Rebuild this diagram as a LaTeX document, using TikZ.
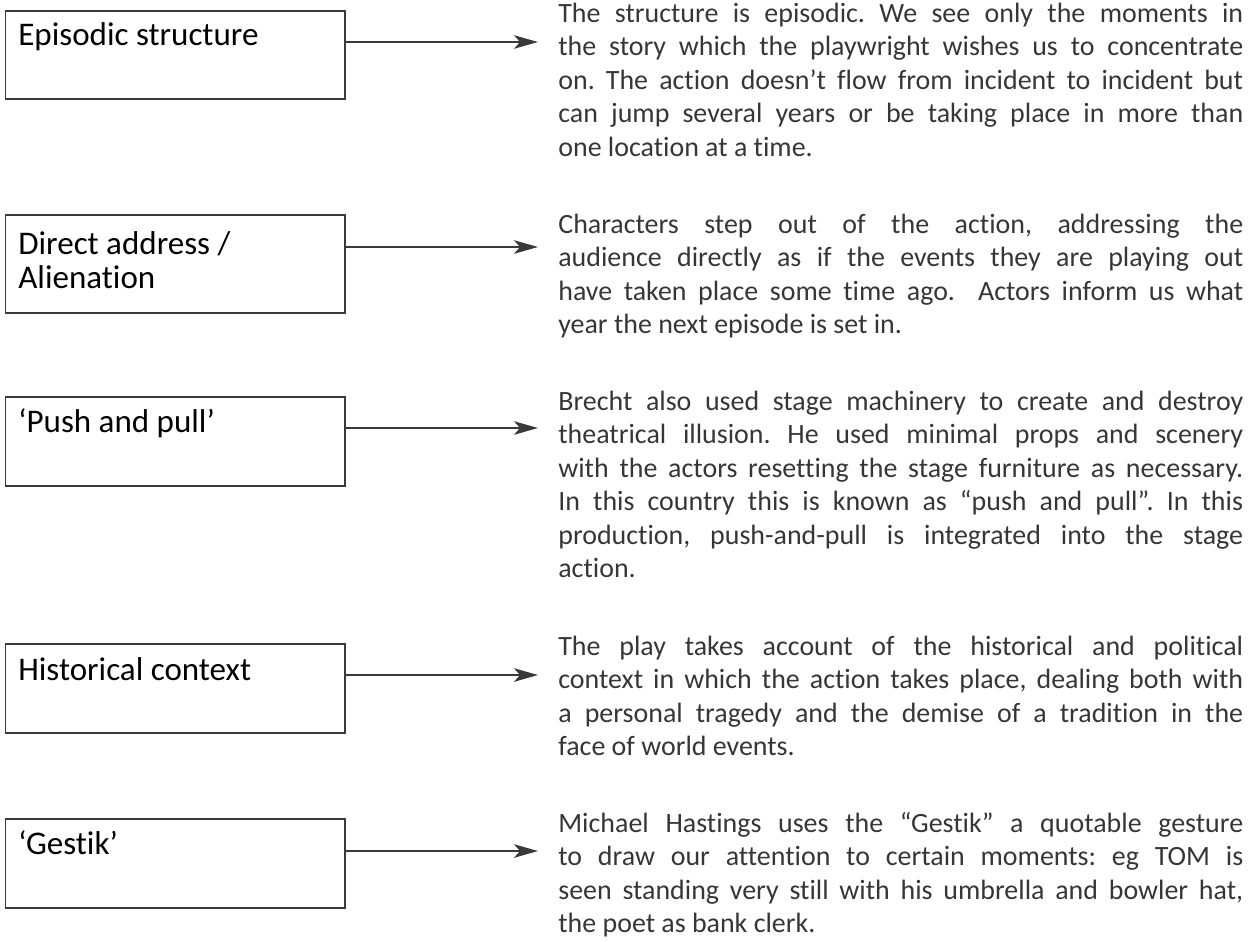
\documentclass[tikz,border=0pt]{standalone}
\usepackage{fontspec}
\setmainfont{Carlito}[Ligatures=NoCommon]
\usetikzlibrary{arrows.meta}

\definecolor{linegray}{HTML}{3A3A3A}
\definecolor{textgray}{HTML}{363636}

\tolerance=10000
\hbadness=10000
\hyphenpenalty=10000
\exhyphenpenalty=10000
\frenchspacing

\tikzset{
  box/.style={draw=linegray,line width=1.1pt,minimum width=6.79cm,anchor=north west,inner sep=0pt,outer sep=0pt},
  lbl/.style={anchor=north west,inner sep=0pt,align=left,font=\fontsize{18.8pt}{19.05pt}\selectfont},
  para/.style={anchor=north west,inner sep=0pt,text width=13.7cm,align=justify,text=textgray,font=\fontsize{15.9pt}{19.05pt}\selectfont},
  link/.style={draw=linegray,line width=1.1pt,-{Stealth[length=0.48cm,width=0.27cm,inset=0.12cm]}}
}

\begin{document}
\begin{tikzpicture}[x=0.02cm,y=-0.02cm]

\useasboundingbox (0,0) rectangle (1253,941);

% -- episodic structure
\node[box,minimum height=1.76cm] (episodic) at (5.5,11) {};
\node[lbl] (episodicText) at (18,21.5) {\strut Episodic structure};
\node[para] (episodicNote) at (558,-1.5) {\strut The structure is episodic. We see only the moments in\linebreak
the story which the playwright wishes us to concentrate\linebreak
on. The action doesn’t flow from incident to incident but\linebreak
can jump several years or be taking place in more than\linebreak
one location at a time.};
\coordinate (episodicTip) at (538,42);

% -- direct address
\node[box,minimum height=1.96cm] (address) at (5.5,215) {};
\node[lbl] (addressText) at (18,231) {\strut Direct address /\\Alienation};
\node[para] (addressNote) at (558,209.5) {\strut Characters step out of the action, addressing the\linebreak
audience directly as if the events they are playing out\linebreak
have taken place some time ago.\ \ Actors inform us what\linebreak
year the next episode is set in.};
\coordinate (addressTip) at (538,247);

% -- push and pull
\node[box,minimum height=1.78cm] (push) at (5.5,397) {};
\node[lbl] (pushText) at (18,408.5) {\strut ‘Push and pull’};
\node[para] (pushNote) at (558,386.5) {\strut Brecht also used stage machinery to create and destroy\linebreak
theatrical illusion. He used minimal props and scenery\linebreak
with the actors resetting the stage furniture as necessary.\linebreak
In this country this is known as “push and pull”. In this\linebreak
production, push-and-pull is integrated into the stage\linebreak
action.};
\coordinate (pushTip) at (538,428);

% -- historical context
\node[box,minimum height=1.78cm] (history) at (5.5,644) {};
\node[lbl] (historyText) at (18,656.5) {\strut Historical context};
\node[para] (historyNote) at (558,631.5) {\strut The play takes account of the historical and political\linebreak
context in which the action takes place, dealing both with\linebreak
a personal tragedy and the demise of a tradition in the\linebreak
face of world events.};
\coordinate (historyTip) at (538,675);

% -- gestik
\node[box,minimum height=1.78cm] (gestik) at (5.5,819) {};
\node[lbl] (gestikText) at (18,830.5) {\strut ‘Gestik’};
\node[para] (gestikNote) at (558,808.5) {\strut Michael Hastings uses the “Gestik” a quotable gesture\linebreak
to draw our attention to certain moments: eg TOM is\linebreak
seen standing very still with his umbrella and bowler hat,\linebreak
the poet as bank clerk.};
\coordinate (gestikTip) at (538,851);

% -- draw arrows
\draw[link] (episodic.east |- episodicTip) -- (episodicTip);
\draw[link] (address.east |- addressTip) -- (addressTip);
\draw[link] (push.east |- pushTip) -- (pushTip);
\draw[link] (history.east |- historyTip) -- (historyTip);
\draw[link] (gestik.east |- gestikTip) -- (gestikTip);

\end{tikzpicture}
\end{document}
